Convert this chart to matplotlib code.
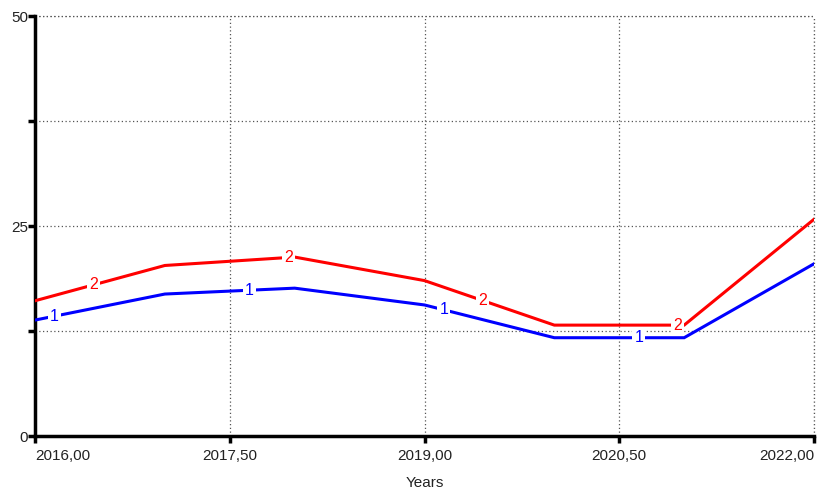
import numpy as np
import matplotlib.pyplot as plt

plt.rcParams['font.family'] = ['Liberation Sans', 'DejaVu Sans']

years = [2016, 2017, 2018, 2019, 2020, 2021, 2022]
run1 = [13.8, 16.9, 17.6, 15.6, 11.7, 11.7, 20.5]
run2 = [16.1, 20.3, 21.3, 18.5, 13.2, 13.2, 25.8]

# where the run number is written on each line
mark1_x = [2016.15, 2017.65, 2019.15, 2020.65]
mark2_x = [2016.45, 2017.95, 2019.45, 2020.95]

xticks = [2016.0, 2017.5, 2019.0, 2020.5, 2022.0]
xlabels = ['2016,00', '2017,50', '2019,00', '2020,50', '2022,00']
yticks = [0, 12.5, 25, 37.5, 50]
ylabels = ['0', '', '25', '', '50']

fig = plt.figure(figsize=(8.19, 4.91), dpi=100)
ax = fig.add_axes([35/819, 55/491, 779/819, 420/491])

ax.plot(years, run1, color='#0000ff', lw=2.2, solid_joinstyle='miter', zorder=3)
ax.plot(years, run2, color='#ff0000', lw=2.2, solid_joinstyle='miter', zorder=3)

for xm in mark1_x:
    ax.text(xm, np.interp(xm, years, run1), '1', color='#0000ff', fontsize=11.5,
            ha='center', va='center', zorder=4,
            bbox=dict(facecolor='white', edgecolor='none', pad=1.5))
for xm in mark2_x:
    ax.text(xm, np.interp(xm, years, run2), '2', color='#ff0000', fontsize=11.5,
            ha='center', va='center', zorder=4,
            bbox=dict(facecolor='white', edgecolor='none', pad=1.5))

ax.set_xlim(2016, 2022)
ax.set_ylim(0, 50)

ax.set_xticks(xticks)
ax.set_xticklabels(xlabels)
ax.set_yticks(yticks)
ax.set_yticklabels(ylabels)
labs = ax.get_xticklabels()
labs[0].set_ha('left')
labs[0].set_x(2015.98)
labs[-1].set_ha('right')

ax.grid(True, color='#555555', linestyle=(0, (1, 2)), lw=0.9)

for s in ['top', 'right']:
    ax.spines[s].set_visible(False)
ax.spines['left'].set_linewidth(2.5)
ax.spines['bottom'].set_linewidth(2.5)
ax.tick_params(axis='both', length=5, width=2.5, labelsize=11, colors='black',
               labelcolor='#222222')
ax.tick_params(axis='x', pad=4)
ax.tick_params(axis='y', pad=0)
ax.axhline(50, color='#555555', linestyle=(0, (1, 2)), lw=0.9, clip_on=False)
ax.axvline(2022, color='#555555', linestyle=(0, (1, 2)), lw=0.9, clip_on=False)

ax.set_xlabel('Years', fontsize=11, color='#222222', labelpad=10)

plt.savefig('out.png', dpi=100)
